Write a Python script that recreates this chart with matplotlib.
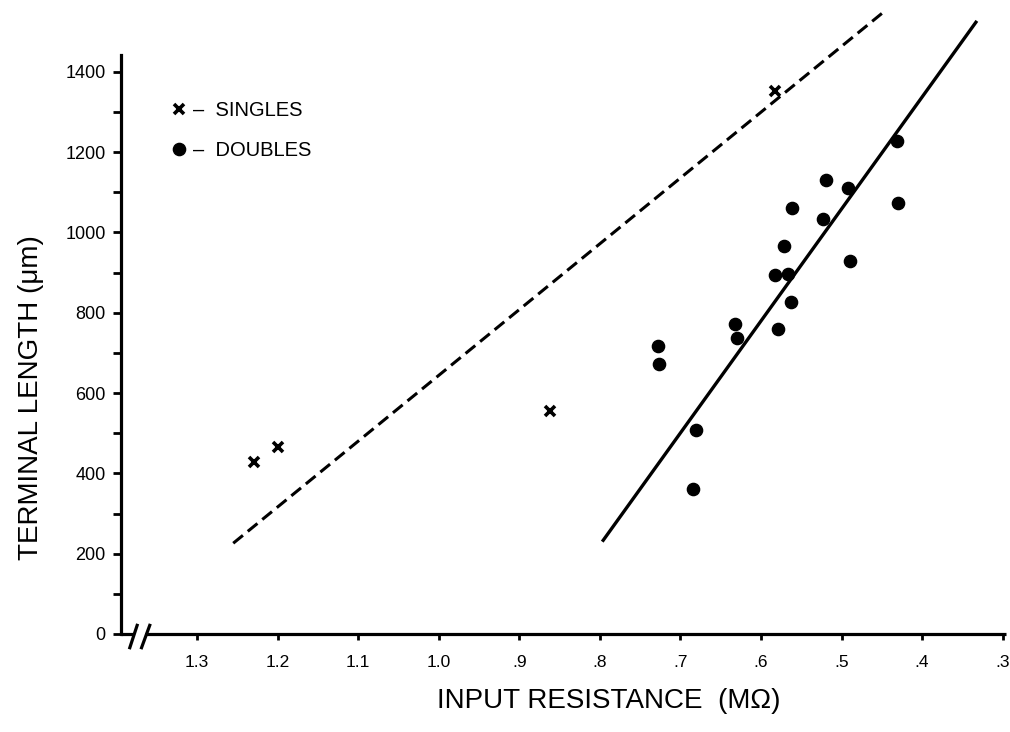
import matplotlib.pyplot as plt
from matplotlib.lines import Line2D
from matplotlib.transforms import ScaledTranslation
import numpy as np

plt.rcParams['font.family'] = ['Liberation Sans', 'DejaVu Sans']
plt.rcParams['lines.scale_dashes'] = False

# input resistance (MOhm) vs terminal length (um)
singles_r = [1.229, 1.200, 0.862, 0.583]
singles_len = [428, 466, 555, 1352]

doubles_r = [0.4315, 0.519, 0.492, 0.4305, 0.561, 0.523, 0.571, 0.583, 0.566,
             0.489, 0.563, 0.579, 0.632, 0.630, 0.728, 0.727, 0.680, 0.684]
doubles_len = [1229, 1130, 1111, 1073, 1061, 1034, 967, 894, 896,
               928, 826, 760, 771, 738, 718, 673, 508, 362]

# regression lines, end points
singles_fit_r = [1.255, 0.446]
singles_fit_len = [226, 1552]
doubles_fit_r = [0.797, 0.332]
doubles_fit_len = [230, 1527]

x_ticks = [1.3, 1.2, 1.1, 1.0, 0.9, 0.8, 0.7, 0.6, 0.5, 0.4, 0.3]
x_tick_labels = ['1.3', '1.2', '1.1', '1.0', '.9', '.8', '.7', '.6', '.5', '.4', '.3']
y_ticks = [0, 200, 400, 600, 800, 1000, 1200, 1400]

fig = plt.figure(figsize=(10.1, 7.32), dpi=100)
ax = fig.add_axes([0.1198, 0.1339, 0.8762, 0.8661])

ax.plot(singles_fit_r, singles_fit_len, color='black', lw=2.2,
        dashes=(9, 4.5), clip_on=False)
ax.plot(doubles_fit_r, doubles_fit_len, color='black', lw=2.4,
        solid_capstyle='butt', clip_on=False)

ax.plot(singles_r, singles_len, ls='none', marker='x', ms=7.5, mew=2.6,
        color='black', clip_on=False)
ax.plot(doubles_r, doubles_len, ls='none', marker='o', ms=8.8,
        color='black', clip_on=False)

ax.set_xlim(1.3943, 0.2959)
ax.set_ylim(0, 1579)

ax.spines['top'].set_visible(False)
ax.spines['right'].set_visible(False)
ax.spines['bottom'].set_visible(False)
ax.spines['left'].set_linewidth(2.3)
ax.spines['left'].set_bounds(0, 1442)

# x axis drawn by hand with a break near the origin
axis_kw = dict(color='black', lw=2.3, transform=ax.transAxes, clip_on=False,
               solid_capstyle='butt')
ax.plot([0, 0.0136], [0, 0], **axis_kw)
ax.plot([0.0271, 1.0], [0, 0], **axis_kw)
ax.plot([0.0094, 0.0188], [-0.024, 0.016], **axis_kw)
ax.plot([0.0226, 0.0331], [-0.024, 0.016], **axis_kw)

ax.set_xticks(x_ticks, x_tick_labels)
ax.set_yticks(y_ticks)
ax.set_yticks(np.arange(100, 1400, 200), minor=True)
ax.tick_params(axis='x', direction='out', length=4, width=2, pad=11,
               labelsize=12.5)
ax.tick_params(axis='y', which='both', direction='out', length=6, width=2,
               pad=5, labelsize=13)

# keep the last tick label inside the figure edge
last = ax.get_xticklabels()[-1]
last.set_horizontalalignment('right')
last.set_transform(last.get_transform() +
                   ScaledTranslation(5 / 72, 0, fig.dpi_scale_trans))

fig.text(0.603, 1 - 701 / 732, 'INPUT RESISTANCE  (MΩ)', fontsize=20,
         ha='center', va='center')
fig.text(0.031, 1 - 398 / 732, 'TERMINAL LENGTH (μm)', fontsize=20,
         rotation=90, ha='center', va='center')

handles = [
    Line2D([], [], ls='none', marker='x', ms=7, mew=2.6, color='black'),
    Line2D([], [], ls='none', marker='o', ms=8.8, color='black'),
]
ax.legend(handles, ['–  SINGLES', '–  DOUBLES'], loc='upper left',
          bbox_to_anchor=(0.038, 0.869), frameon=False, fontsize=14.5,
          handlelength=0.6, handletextpad=0.4, labelspacing=1.04,
          borderaxespad=0.5)

fig.savefig('out.png', dpi=100)
